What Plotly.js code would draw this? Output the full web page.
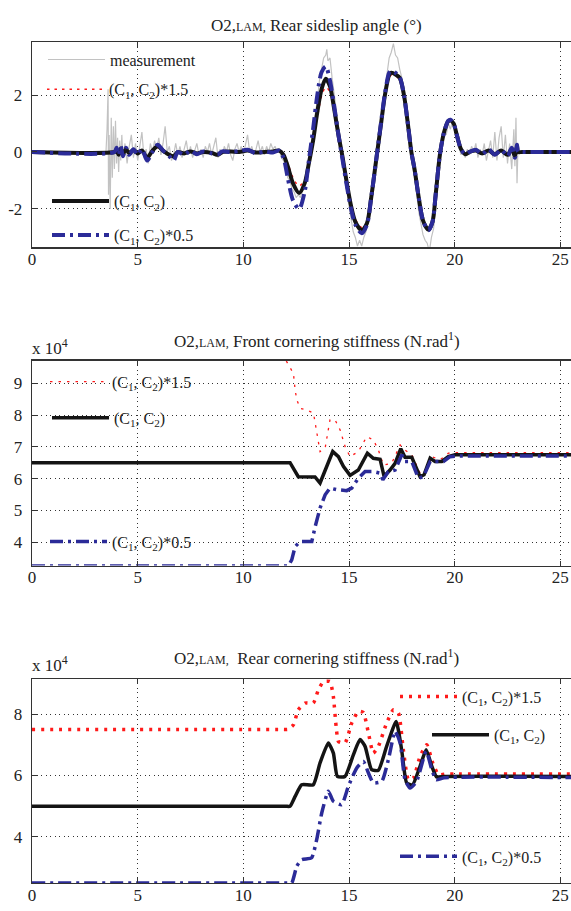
<!DOCTYPE html>
<html>
<head>
<meta charset="utf-8">
<script src="https://cdn.plot.ly/plotly-3.0.1.min.js"></script>
<style>
html,body{margin:0;padding:0;overflow:hidden;background:#fff;}
#chart{width:580px;height:911px;}
</style>
</head>
<body>
<div id="chart"></div>
<script>
// ---------- Panel 1: rear sideslip angle (deg) ----------
const betaMeasT = [3.5,3.55,3.6,3.62,3.65,3.7,3.75,3.8,3.85,3.9,3.95,4.0,4.05,4.1,4.15,4.2,4.25,4.3,
4.4,4.5,4.6,4.7,4.8,4.9,5.0,5.1,5.2,5.3,5.4,5.5,5.6,5.7,5.8,5.9,6.0,6.1,6.2,6.3,
6.4,6.5,6.6,6.7,6.8,6.9,7.0,7.1,7.2,7.3,7.4,7.5,7.6,7.7,7.8,7.9,8.0,8.1,8.2,8.3,
8.4,8.5,8.6,8.7,8.8,8.9,9.0,9.1,9.2,9.3,9.4,9.5,9.6,9.7,9.8,9.9,10.0,10.1,10.2,10.3,
10.4,10.5,10.6,10.7,10.8,10.9,11.0,11.1,11.2,11.3,11.4,11.5,11.6,11.7,11.8,11.9,12.0,12.1,12.2,12.3,
12.4,12.5,12.6,12.7,12.8,12.9,13.0,13.1,13.2,13.3,13.4,13.5,13.6,13.7,13.8,13.9,13.95,14.0,
14.1,14.2,14.3,14.4,14.5,14.6,14.7,14.8,14.9,15.0,15.1,15.2,15.3,15.4,15.5,15.6,15.7,15.8,15.9,16.0,
16.1,16.2,16.3,16.4,16.5,16.6,16.7,16.8,16.9,17.0,17.1,17.2,17.3,17.4,17.5,17.6,17.7,17.8,17.9,18.0,
18.1,18.2,18.3,18.4,18.5,18.6,18.7,18.8,18.9,19.0,19.1,19.2,19.3,19.4,19.5,19.6,19.7,19.8,19.9,20.0,
20.1,20.2,20.3,20.4,20.5,20.6,20.7,20.8,20.9,21.0,21.1,21.2,21.3,21.4,21.5,21.6,21.7,21.8,21.9,22.0,
22.1,22.2,22.3,22.4,22.5,22.6,22.7,22.8,22.85,22.9,22.95,23.0];
const betaMeas = [0,0.8,2.2,-1.5,0.6,-2.0,1.2,-0.9,0.9,-0.6,1.1,-0.4,0.5,-0.7,0.4,-0.3,0.6,-0.2,
0.3,-0.4,0.2,0.6,-0.2,0.3,-0.3,0.2,0.7,-0.2,0.1,-0.4,0.3,0.0,0.4,0.1,0.5,-0.1,0.3,0.9,
0.0,0.2,-0.3,-0.1,0.3,-0.1,0.2,-0.2,0.1,0.4,-0.1,0.2,-0.2,0.1,0.3,-0.1,0.1,-0.2,0.2,0.0,
0.3,-0.1,0.2,0.5,-0.2,0.1,-0.1,0.2,0.0,0.3,-0.1,-0.3,0.1,0.3,0.0,0.2,-0.1,0.3,0.6,0.0,
0.2,-0.1,0.1,0.4,0.0,0.2,-0.1,0.2,0.0,0.3,0.1,0.2,0.0,0.1,-0.2,-0.3,-0.5,-0.9,-1.0,-1.3,
-1.4,-1.6,-1.5,-1.6,-1.3,-1.1,-0.6,-0.3,0.3,0.6,1.3,1.8,2.5,2.9,3.3,3.4,3.6,3.2,
3.3,2.6,2.0,1.4,0.9,0.2,-0.2,-0.9,-1.4,-1.9,-2.4,-2.8,-3.0,-3.3,-3.1,-3.3,-3.0,-2.8,-2.3,-1.9,
-1.2,-0.7,0.0,0.4,1.1,1.7,2.3,2.8,3.3,3.5,3.8,3.4,3.3,2.9,2.6,2.0,1.2,0.6,0.2,-0.5,
-0.8,-1.5,-2.1,-2.5,-2.9,-3.1,-3.2,-3.5,-3.0,-2.7,-2.0,-1.1,-0.3,0.3,0.8,0.6,1.0,0.8,1.1,0.9,
0.5,0.2,-0.1,0.1,-0.2,0.1,-0.1,0.2,0.0,0.3,-0.2,0.1,-0.1,0.3,-0.3,0.1,0.4,-0.2,0.7,-0.3,
0.5,0.9,-0.2,0.6,-0.4,0.3,-0.6,0.8,-0.5,1.2,-1.1,0.3];

const betaT = [0,3.9,4.0,4.1,4.2,4.3,4.45,4.6,4.8,5.0,5.2,5.45,5.7,5.95,6.2,6.5,6.7,6.9,7.2,7.5,7.8,8.1,8.5,8.8,9.0,9.4,9.8,10.2,10.6,11.0,11.4,11.7,11.9,12.1,12.35,12.64,12.9,13.1,13.3,13.5,13.7,13.9,14.1,14.3,14.5,14.7,14.9,15.1,15.3,15.6,15.85,16.05,16.3,16.5,16.7,16.9,17.0,17.2,17.4,17.6,17.8,17.95,18.1,18.3,18.5,18.75,18.95,19.1,19.3,19.5,19.7,19.8,19.95,20.1,20.3,20.5,20.7,21.0,21.3,21.6,21.9,22.2,22.5,22.7,22.85,22.95,23.0,23.2,26];
const betaNom = [0,0,0.05,-0.1,0.12,-0.08,0.1,-0.05,0.08,-0.05,0.05,-0.2,0.05,0.2,0.05,-0.1,-0.15,0,-0.05,0.02,-0.05,0,-0.03,-0.1,0,0.02,0,0.05,-0.02,0,0.02,0.05,-0.1,-0.5,-1.1,-1.44,-1.1,-0.4,0.4,1.4,2.2,2.57,2.3,1.5,0.6,-0.2,-1.1,-1.9,-2.45,-2.75,-2.5,-1.6,-0.2,0.9,2.0,2.7,2.78,2.72,2.6,2.0,0.9,0,-0.6,-1.6,-2.4,-2.73,-2.45,-1.5,-0.1,0.7,1.08,1.11,1.0,0.6,0.1,-0.08,0,0.05,-0.05,0.05,-0.08,0.05,-0.1,0.1,-0.15,0.2,0,0,0];
const betaHi = [0,0,0.03,-0.08,0.1,-0.06,0.08,-0.04,0.06,-0.04,0.04,-0.15,0.04,0.15,0.04,-0.08,-0.12,0,-0.04,0.02,-0.04,0,-0.03,-0.08,0,0.02,0,0.04,-0.02,0,0.02,0.05,-0.08,-0.4,-0.9,-1.2,-0.95,-0.35,0.3,1.2,1.95,2.28,2.1,1.4,0.55,-0.2,-1.05,-1.8,-2.35,-2.65,-2.45,-1.55,-0.2,0.85,1.9,2.6,2.7,2.66,2.55,1.95,0.85,0,-0.6,-1.55,-2.35,-2.7,-2.42,-1.45,-0.1,0.68,1.05,1.08,0.98,0.58,0.1,-0.08,0,0.04,-0.04,0.04,-0.06,0.04,-0.08,0.08,-0.12,0.15,0,0,0];
const betaLo = [0,0,0.15,-0.1,0.2,-0.15,0.15,-0.1,0.1,-0.1,0.1,-0.3,0.0,0.25,0.05,-0.15,-0.3,0,-0.1,0.05,-0.08,0.02,-0.05,-0.08,0.02,0,0.03,0.08,-0.05,0.02,-0.02,0.05,-0.2,-0.9,-1.7,-2.0,-1.4,-0.3,0.8,2.0,2.8,3.0,2.5,1.6,0.6,-0.3,-1.2,-2.0,-2.55,-2.85,-2.55,-1.6,-0.2,0.95,2.05,2.78,2.85,2.78,2.62,2.0,0.9,0,-0.6,-1.6,-2.4,-2.75,-2.45,-1.5,-0.1,0.7,1.1,1.13,1.0,0.6,0.1,-0.08,0,0.08,-0.08,0.1,-0.1,0.08,-0.15,0.15,-0.2,0.25,0,0,0];

// ---------- Panel 2: front cornering stiffness (x 10^4 N/rad) ----------
const cfNomT = [0,12.21,12.6,13.39,13.63,13.95,14.23,14.5,14.74,15.05,15.44,15.87,16.15,16.47,16.66,16.94,17.18,17.45,17.65,17.97,18.36,18.55,18.84,19.07,19.39,19.7,20.02,26];
const cfNom  = [6.5,6.5,6.06,6.05,5.86,6.38,6.85,6.69,6.38,6.1,6.27,6.8,6.64,6.61,6.07,6.27,6.48,6.94,6.67,6.67,6.06,6.12,6.64,6.54,6.54,6.69,6.75,6.75];
const cfHiT = [0,11.97,12.05,12.37,12.45,12.53,12.69,13.0,13.32,13.48,13.63,13.87,14.1,14.34,14.58,14.82,15.05,15.44,15.84,16.15,16.39,16.63,17.02,17.42,17.65,17.97,18.36,18.6,18.92,19.31,19.7,20.02,26];
const cfHi  = [9.75,9.75,9.68,9.31,8.79,8.48,8.21,8.16,8.06,7.43,6.85,6.96,7.85,7.85,7.53,7.0,6.69,6.85,7.32,7.22,6.9,6.43,6.48,7.06,6.9,6.75,6.17,6.22,6.69,6.59,6.8,6.82,6.82];
const cfLoT = [0,12.13,12.29,12.45,12.69,13.24,13.4,13.63,13.87,14.1,14.42,14.89,15.13,15.44,15.76,16.15,16.47,16.6,16.86,17.18,17.5,17.65,17.97,18.28,18.52,18.84,19.15,19.47,19.78,20.1,26];
const cfLo  = [3.25,3.25,3.44,3.86,4.02,4.02,4.49,5.07,5.49,5.7,5.65,5.62,5.7,6.01,6.22,6.22,6.17,5.96,6.22,6.27,6.75,6.54,6.54,6.01,6.06,6.54,6.54,6.54,6.69,6.71,6.71];

// ---------- Panel 3: rear cornering stiffness (x 10^4 N/rad) ----------
const crNomT = [0,12.0,12.21,12.45,12.76,13.31,13.63,14.02,14.26,14.45,14.81,15.21,15.52,15.76,16.07,16.39,16.78,17.23,17.49,17.73,18.01,18.36,18.65,18.92,19.15,19.5,26];
const crNom  = [5.0,5.0,5.0,5.32,5.7,5.7,6.41,7.06,6.73,5.97,5.97,6.68,7.17,6.95,6.19,6.17,6.95,7.76,6.84,5.76,5.7,6.3,6.84,6.3,5.95,5.97,5.97];
const crHiT = [0,11.9,12.1,12.37,12.6,12.92,13.31,13.55,13.79,14.1,14.26,14.39,14.5,14.81,15.13,15.44,15.68,15.92,16.15,16.39,16.78,17.1,17.34,17.57,17.81,18.05,18.36,18.68,18.96,19.23,19.62,20.0,26];
const crHi  = [7.5,7.5,7.5,7.65,8.14,8.36,8.36,8.79,9.06,9.06,8.57,7.6,7.11,7.06,7.71,8.09,8.05,7.38,6.73,6.95,7.71,8.14,8.03,6.84,5.86,5.92,6.62,7.0,6.41,6.03,6.05,6.05,6.05];
const crLoT = [0,12.1,12.29,12.53,12.76,13.23,13.47,13.71,14.02,14.26,14.65,14.97,15.36,15.68,15.92,16.15,16.55,16.86,17.18,17.42,17.65,17.89,18.2,18.65,18.92,19.12,19.5,26];
const crLo  = [2.5,2.5,2.5,3.05,3.26,3.32,3.91,4.78,5.49,5.16,5.05,5.65,6.24,6.46,6.08,5.76,5.81,6.51,7.44,7.06,5.86,5.59,5.81,6.79,6.19,5.86,5.93,5.93];

const xTicks = [0,5,10,15,20,25];
const y1Ticks = [-2,0,2], y1Text = ['-2','0','2'];
const y2Ticks = [4,5,6,7,8,9];
const y3Ticks = [4,6,8];

const nameMeas = 'measurement';
const nameHi = '(C<sub>1</sub>, C<sub>2</sub>)*1.5';
const nameNom = '(C<sub>1</sub>, C<sub>2</sub>)';
const nameLo = '(C<sub>1</sub>, C<sub>2</sub>)*0.5';

const RED = '#ff1a1a', BLK = '#141414', BLU = '#2b2b98', GRY = '#c2c2c2';
const dashLo = '13px,5px,3px,5px';
const FONT = 'Liberation Serif, Times New Roman, serif';

const traces = [
  {x: betaMeasT, y: betaMeas, name: nameMeas, xaxis:'x', yaxis:'y', legend:'legend',
   mode:'lines', line:{color:GRY, width:1.2}},
  {x: betaT, y: betaHi, name: nameHi, xaxis:'x', yaxis:'y', legend:'legend2',
   mode:'lines', line:{color:RED, width:1.5, dash:'2.5px,5px', shape:'spline', smoothing:0.8}},
  {x: betaT, y: betaNom, name: nameNom, xaxis:'x', yaxis:'y', legend:'legend3',
   mode:'lines', line:{color:BLK, width:4, shape:'spline', smoothing:0.8}},
  {x: betaT, y: betaLo, name: nameLo, xaxis:'x', yaxis:'y', legend:'legend4',
   mode:'lines', line:{color:BLU, width:4, dash:dashLo, shape:'spline', smoothing:0.8}},

  {x: cfHiT, y: cfHi, name: nameHi, xaxis:'x2', yaxis:'y2', legend:'legend5',
   mode:'lines', line:{color:RED, width:1.3, dash:'2.5px,6px'}},
  {x: cfNomT, y: cfNom, name: nameNom, xaxis:'x2', yaxis:'y2', legend:'legend6',
   mode:'lines', line:{color:BLK, width:3.5}},
  {x: cfLoT, y: cfLo, name: nameLo, xaxis:'x2', yaxis:'y2', legend:'legend7',
   mode:'lines', line:{color:BLU, width:3.5, dash:dashLo}},

  {x: crHiT, y: crHi, name: nameHi, xaxis:'x3', yaxis:'y3', legend:'legend8',
   mode:'lines', line:{color:RED, width:3.5, dash:'3px,6px', shape:'spline', smoothing:0.5}},
  {x: crNomT, y: crNom, name: nameNom, xaxis:'x3', yaxis:'y3', legend:'legend9',
   mode:'lines', line:{color:BLK, width:3.5, shape:'spline', smoothing:0.5}},
  {x: crLoT, y: crLo, name: nameLo, xaxis:'x3', yaxis:'y3', legend:'legend10',
   mode:'lines', line:{color:BLU, width:3.5, dash:dashLo, shape:'spline', smoothing:0.5}}
];

function xa(anchor){
  return {anchor: anchor, range:[0,25.93], tickvals: xTicks, ticks:'inside', ticklen:5,
    tickcolor:'#333', showline:true, linecolor:'#333', linewidth:1.3, mirror:'ticks',
    showgrid:true, gridcolor:'#333', griddash:'1px,3.5px', gridwidth:1, zeroline:false,
    tickfont:{family:FONT, size:17, color:'#222'}, ticklabelstandoff:-4, fixedrange:true};
}
function ya(domain, range, vals, text){
  const o = {domain: domain, range: range, tickvals: vals, ticks:'inside', ticklen:5,
    tickcolor:'#333', showline:true, linecolor:'#333', linewidth:1.3, mirror:'ticks',
    showgrid:true, gridcolor:'#333', griddash:'1px,3.5px', gridwidth:1, zeroline:false,
    tickfont:{family:FONT, size:17, color:'#222'}, ticklabelstandoff:5, fixedrange:true};
  if (text) o.ticktext = text;
  return o;
}
function lg(x, y){
  return {x:x, y:y, xanchor:'left', yanchor:'middle', bgcolor:'rgba(0,0,0,0)',
    borderwidth:0, itemwidth:57, font:{family:FONT, size:16, color:'#222'},
    itemclick:false, itemdoubleclick:false};
}
const ttl = (t, y) => ({text:t, xref:'paper', yref:'paper', x:0.52, y:y, xanchor:'center',
  yanchor:'middle', showarrow:false, font:{family:FONT, size:17, color:'#222'}});
const sc = s => '<span style="font-size:12px">' + s + '</span>';

const layout = {
  width:580, height:911,
  margin:{l:32, r:0, t:41.7, b:27.7},
  paper_bgcolor:'#fff', plot_bgcolor:'#fff',
  font:{family:FONT, size:17, color:'#222'},
  showlegend:true,
  xaxis: xa('y'), xaxis2: xa('y2'), xaxis3: xa('y3'),
  yaxis: ya([0.7557,1],[-3.35,3.86], y1Ticks, y1Text),
  yaxis2: ya([0.3774,0.621],[3.26,9.71], y2Ticks),
  yaxis3: ya([0,0.2428],[2.5,9.15], y3Ticks),
  legend: lg(0.0201,0.9791), legend2: lg(0.0182,0.9438), legend3: lg(0.0274,0.8107), legend4: lg(0.0274,0.7703),
  legend5: lg(0.0237,0.5960), legend6: lg(0.0274,0.5532), legend7: lg(0.0237,0.4059),
  legend8: lg(0.6624,0.2217), legend9: lg(0.7208,0.1762), legend10: lg(0.6624,0.0316),
  annotations:[
    ttl('O2,' + sc('LAM,') + ' Rear sideslip angle (°)', 1.0198),
    ttl('O2,' + sc('LAM,') + ' Front cornering stiffness (N.rad<sup>1</sup>)', 0.6456),
    ttl('O2,' + sc('LAM,') + '&nbsp; Rear cornering stiffness (N.rad<sup>1</sup>)', 0.2693),
    {text:'x 10<sup>4</sup>', xref:'paper', yref:'paper', x:0, y:0.6376, xanchor:'left', yanchor:'middle',
     showarrow:false, font:{family:FONT, size:17, color:'#222'}, xshift:-2},
    {text:'x 10<sup>4</sup>', xref:'paper', yref:'paper', x:0, y:0.2606, xanchor:'left', yanchor:'middle',
     showarrow:false, font:{family:FONT, size:17, color:'#222'}, xshift:-2}
  ]
};

Plotly.newPlot('chart', traces, layout, {displayModeBar:false, staticPlot:true});
</script>
</body>
</html>
